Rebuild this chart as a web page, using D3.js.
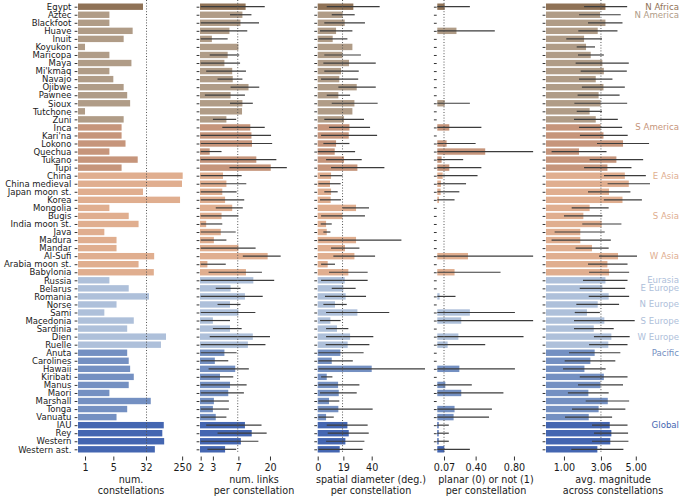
<!DOCTYPE html>
<html><head><meta charset="utf-8">
<script src="https://cdn.jsdelivr.net/npm/d3@7"></script>
<style>body{margin:0;background:#fff}svg{display:block}text{font-family:"DejaVu Sans",sans-serif}</style>
</head><body><svg id="c" width="682" height="499"></svg>
<script>
const categories = ["Egypt","Aztec","Blackfoot","Huave","Inuit","Koyukon","Maricopa","Maya","Mi'kmaq","Navajo","Ojibwe","Pawnee","Sioux","Tutchone","Zuni","Inca","Kari'na","Lokono","Quechua","Tukano","Tupi","China","China medieval","Japan moon st.","Korea","Mongolia","Bugis","India moon st.","Java","Madura","Mandar","Al-Sufi","Arabia moon st.","Babylonia","Russia","Belarus","Romania","Norse","Sami","Macedonia","Sardinia","Dien","Ruelle","Anuta","Carolines","Hawaii","Kiribati","Manus","Maori","Marshall","Tonga","Vanuatu","IAU","Rey","Western","Western ast."];

const regionNames = ["N Africa","N America","S America","E Asia","S Asia","W Asia","Eurasia","E Europe","N Europe","S Europe","W Europe","Pacific","Global"];
const regionSizes = [1,14,6,5,5,3,1,2,2,2,2,9,4];
const regionColors = ["#8f7256","#b09c87","#c6957b","#e0ae8f","#e0ae8f","#e0ae8f","#aec0da","#aec0da","#aec0da","#aec0da","#aec0da","#7490c2","#4466b1"];

const numConst = [27,4,4,15,9,1,4,14,4,5,9,11,13,1,9,8,8,10,4,20,8,258,248,27,222,4,12,21,3,6,6,51,21,50,4,12,38,6,3,16,11,100,75,11,12,13,16,12,4,42,11,6,88,81,90,53];

const links = [8.9,8.0,7.5,5.2,2.9,7.0,4.9,4.4,5.7,5.8,9.8,5.4,8.0,7.9,4.7,10.4,10.8,11.0,2.7,12.7,20.5,4.2,4.7,4.1,4.5,5.7,4.0,2.4,3.9,3.1,7.0,18.5,2.5,9.0,11.5,5.4,8.7,5.3,7.0,3.0,5.3,11.3,9.6,4.4,3.2,6.3,3.8,5.3,5.0,3.1,3.0,3.3,8.7,10.9,7.6,4.5];
const linksLo = [2.0,5.3,2.0,2.0,2.0,null,2.7,2.0,2.4,3.5,5.4,2.3,5.3,null,3.0,4.1,2.0,2.0,2.0,2.0,5.2,2.0,2.0,2.0,2.0,3.3,2.0,2.0,2.0,2.0,2.0,8.1,2.0,2.6,2.0,3.3,2.0,3.5,2.0,2.0,3.0,2.7,2.0,2.0,2.0,2.6,2.0,2.0,2.0,2.0,2.0,2.0,2.4,3.5,2.0,2.5];
const linksHi = [16.8,10.8,13.9,9.4,4.9,null,7.2,7.4,9.0,8.0,14.0,8.7,11.3,null,6.5,16.8,20.7,21.5,4.0,24.7,35,7.8,9.1,6.6,8.5,8.1,7.0,4.1,6.4,4.7,12.4,28.5,4.6,15.3,23,7.5,15.7,7.5,12.3,5.3,7.8,20,17.2,6.6,5.0,9.9,5.9,9.2,8.4,5.1,5.1,4.7,15.1,17.9,13.6,6.5];

const diameter = [26.4,18.5,20,13.6,11.1,25.7,18.3,23.2,17.3,16,28.9,15.3,27.2,25.7,19.5,23.5,23,13.6,12.6,19.5,29.4,9.9,9.1,9.9,9.6,28.4,18.3,6.2,6.7,28.4,20.2,27.2,7.4,22.7,20,19,20.7,12.8,29.4,9.4,14.3,24,22.2,16.8,10.4,40,6.7,15.1,15.6,8.4,15.3,6.2,22,23,20.5,16.3];
const diameterLo = [6.7,10.4,4.9,1.7,0.5,null,4.9,4.2,4.9,2.5,15.3,6.7,10.4,null,4.9,8.4,2.5,4.2,0,6.2,9.9,1.7,0.5,4.9,1.7,18.5,2.5,2.2,4.2,0.5,9.9,11.6,2.5,8.4,2.5,10.4,5.4,4.2,6.2,1.7,6.2,6.2,5.9,0.5,0.5,0.5,2.5,0.5,1.7,0.5,0.5,0.5,6.7,7.4,6.2,0.5];
const diameterHi = [45.9,27.4,35,25.7,22,null,32,43,30.4,30,43,24,44.4,null,34.3,38.8,44,23.5,27.7,32.6,49.4,18.3,17,14.8,17.3,38,35,10.4,9.4,62,30.9,42.5,12.8,37,37,28.1,35.8,21.5,53,17,22.7,41.2,38.3,34,26,79.5,10.9,30.9,28.9,16,40.7,11.9,37,37.8,34.6,33.3];

const planar = [0.077,0,0,0.20,0,0,0,0,0,0,0,0,0.077,0,0,0.125,0,0.097,0.50,0.045,0.125,0.056,0.038,0.035,0.017,0,0,0,0,0,0,0.32,0,0.18,0,0,0.024,0,0.34,0.25,0,0.22,0.108,0,0,0.23,0,0.084,0.25,0,0.18,0.17,0.014,0.014,0.014,0.073];
const planarLo = categories.map(() => 0);
const planarHi = [0.34,0,0,0.60,0,null,0,0,0,0,0,0,0.34,null,0,0.46,0,0.40,1.0,0.27,0.46,0.42,0.30,0.23,0.18,0,0,0,0,0,0,1.0,0,0.66,0,0,0.19,0,0.81,1.0,0,0.90,0.50,0,0,0.81,0,0.36,0.69,0,0.57,0.54,0.12,0.12,0.12,0.34];

const magnitude = [3.31,3.01,3.31,2.88,2.12,2.23,2.49,3.14,3.22,2.77,3.20,2.93,3.04,2.43,2.77,3.04,3.20,4.29,1.84,3.92,3.42,4.39,4.61,3.51,4.26,2.43,2.08,3.10,1.91,1.91,2.56,4.01,3.42,3.51,3.31,3.14,3.49,2.88,2.28,3.25,2.66,3.64,3.47,2.71,2.47,2.14,3.22,3.03,2.36,3.44,2.93,2.38,3.55,3.64,3.58,2.86];
const magnitudeLo = [2.12,1.84,2.34,1.80,1.13,1.71,1.78,1.65,1.93,1.84,2.00,1.76,1.58,1.71,1.56,1.84,1.89,2.84,0.31,2.43,2.12,3.23,3.43,2.34,3.22,1.43,1.0,2.02,0.48,0.31,1.65,2.95,2.34,2.40,2.06,1.88,2.38,1.69,1.6,1.56,1.56,2.67,2.40,1.28,1.04,0.95,1.88,1.78,1.22,2.21,1.45,1.06,2.56,2.67,2.56,1.41];
const magnitudeHi = [4.52,4.16,4.26,3.98,3.12,2.73,3.22,4.61,4.50,3.70,4.39,4.10,4.52,3.12,4.0,4.24,4.55,5.74,3.37,5.41,4.76,5.56,5.79,4.70,5.34,3.49,3.14,4.20,3.27,3.61,3.49,5.07,4.54,4.63,4.54,4.41,4.63,4.07,3.0,4.94,3.77,4.66,4.54,4.14,3.86,3.32,4.54,4.29,3.49,4.63,4.42,3.68,4.54,4.57,4.59,4.31];

const tickVals = [[1,5,32,250],[2,3,7,20],[0,19,40],[0.07,0.40,0.80],[1.00,3.06,5.00]];
const refVals = [33, 6.85, 18.4, 0.07, 3.06];
const titles = [["num.","constellations"],["num. links","per constellation"],["spatial diameter (deg.)","per constellation"],["planar (0) or not (1)","per constellation"],["avg. magnitude","across constellations"]];

// row -> region index
const rowRegion = [];
regionSizes.forEach((n, r) => { for (let k = 0; k < n; k++) rowRegion.push(r); });
const regionStart = [];
regionSizes.reduce((acc, n) => { regionStart.push(acc); return acc + n; }, 0);

const svg = d3.select("#c");
const y = d3.scalePoint().domain(categories).range([6.7, 449.3]);
const barH = 6.4;
const axisY = 456.5;
const rows = d3.range(categories.length);

const panels = [
  {x: d3.scaleLog().domain([0.671, 391]).range([78, 190]), v: numConst, lo: null, hi: null, fmt: d => String(d), tx: 131},
  {x: d3.scaleLog().domain([1.955, 54.2]).range([200, 300]), v: links, lo: linksLo, hi: linksHi, fmt: d => String(d), tx: 254},
  {x: d3.scaleLinear().domain([0, 81.7]).range([317.7, 428]), v: diameter, lo: diameterLo, hi: diameterHi, fmt: d => String(d), tx: 371},
  {x: d3.scaleLinear().domain([0, 1.03]).range([437.3, 536]), v: planar, lo: planarLo, hi: planarHi, fmt: d3.format(".2f"), tx: 486},
  {x: d3.scaleLinear().domain([0, 6.07]).range([546, 655]), v: magnitude, lo: magnitudeLo, hi: magnitudeHi, fmt: d3.format(".2f"), tx: 613}
];

panels.forEach((p, i) => {
  const g = svg.append("g");
  const x0 = p.x.range()[0];
  const dmin = p.x.domain()[0], dmax = p.x.domain()[1];
  // bars
  g.selectAll("rect").data(rows.filter(j => p.v[j] > dmin)).join("rect")
    .attr("x", x0)
    .attr("y", j => y(categories[j]) - barH / 2)
    .attr("height", barH)
    .attr("width", j => p.x(p.v[j]) - x0)
    .attr("fill", j => regionColors[rowRegion[j]]);
  // error bars
  if (p.lo) {
    const er = rows.filter(j => p.lo[j] != null && p.hi[j] != null && p.hi[j] > p.lo[j]);
    g.selectAll("line.err").data(er).join("line")
      .attr("class", "err")
      .attr("x1", j => p.x(Math.max(p.lo[j], dmin)))
      .attr("x2", j => p.x(Math.min(p.hi[j], dmax)))
      .attr("y1", j => y(categories[j])).attr("y2", j => y(categories[j]))
      .attr("stroke", "#3c3c3c").attr("stroke-width", 1.2);
  }
  // reference dotted line
  g.append("line")
    .attr("x1", p.x(refVals[i])).attr("x2", p.x(refVals[i]))
    .attr("y1", 0).attr("y2", 453.5)
    .attr("stroke", "#555").attr("stroke-width", 1).attr("stroke-dasharray", "1,1.8");
  // x axis
  const ax = svg.append("g").attr("transform", `translate(0,${axisY})`)
    .call(d3.axisBottom(p.x).tickValues(tickVals[i]).tickFormat(p.fmt).tickSize(4).tickPadding(3.9));
  ax.select(".domain").remove();
  ax.selectAll("line").attr("stroke", "#333");
  ax.selectAll("text").attr("font-size", 9.6).attr("fill", "#1a1a1a").attr("font-family", "DejaVu Sans");
  // y axis ticks
  const ay = svg.append("g").attr("transform", `translate(${x0 - 0.6},0)`)
    .call(d3.axisLeft(y).tickSize(2.8).tickPadding(3.2).tickFormat(i === 0 ? (d => d) : () => ""));
  ay.select(".domain").remove();
  ay.selectAll("line").attr("stroke", "#333");
  ay.selectAll("text").attr("font-size", 8.5).attr("fill", "#1a1a1a").attr("font-family", "DejaVu Sans");
  if (i !== 0) ay.selectAll("text").remove();
  // axis titles
  titles[i].forEach((t, k) => {
    svg.append("text").attr("x", p.tx).attr("y", 483 + k * 11.4)
      .attr("text-anchor", "middle").attr("font-size", 9.6).attr("fill", "#1a1a1a").text(t);
  });
});

// region labels
regionNames.forEach((r, k) => {
  svg.append("text")
    .attr("x", 679).attr("y", y(categories[regionStart[k]]))
    .attr("dy", "0.35em").attr("text-anchor", "end")
    .attr("font-size", 8.6).attr("fill", regionColors[k]).text(r);
});
</script></body></html>
